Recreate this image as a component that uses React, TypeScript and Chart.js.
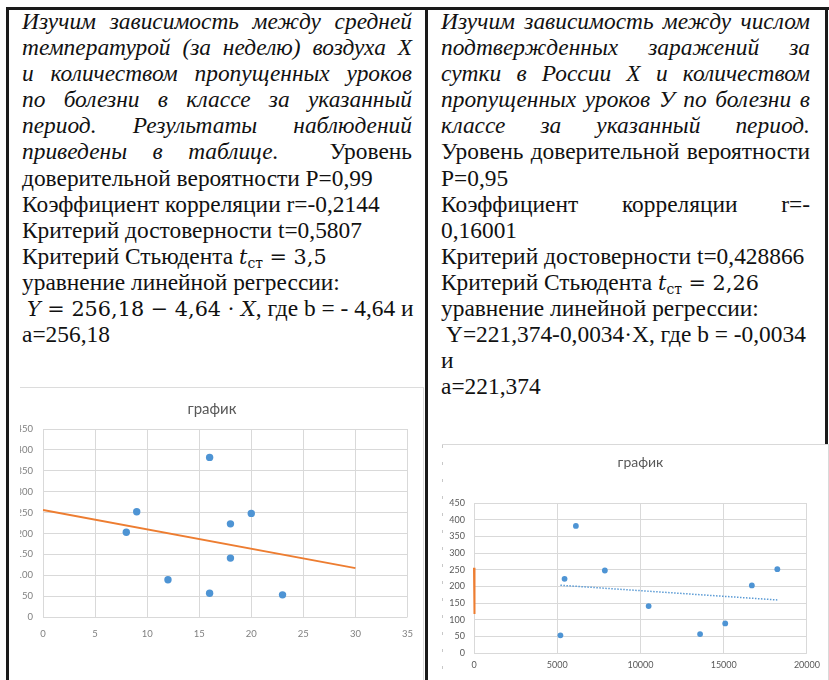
import React, { useEffect, useRef } from "react";
import { Chart, registerables } from "chart.js";

Chart.register(...registerables);

// Weekly mean air temperature (X) and lessons missed through illness (Y)
const avgTemperature = [16, 9, 8, 20, 18, 18, 12, 16, 23];
const lessonsMissed = [382, 252, 203, 248, 223, 141, 89, 57, 53];
// Confirmed infections per day in Russia (X) for the same weeks
const dailyCases = [6120, 18220, 16690, 7860, 5440, 10490, 15090, 13580, 5190];

// Linear regression coefficients, Y = a + b·X
const tempA = 256.18;
const tempB = -4.64;
const casesA = 221.374;
const casesB = -0.0034;

// X span of the temperature trend line (extended to 0 and 30)
const tempTrendX = [0, 30];

// Axis ticks
const tempXTicks = [0, 5, 10, 15, 20, 25, 30, 35];
const casesXTicks = [0, 5000, 10000, 15000, 20000];
const lessonsYTicks = [0, 50, 100, 150, 200, 250, 300, 350, 400, 450];

const serif = "'Liberation Serif', 'Times New Roman', serif";
const mathFont = "'DejaVu Serif', serif";
const sans = "Lato, 'Noto Sans', 'DejaVu Sans', sans-serif";

const BLUE = "#4e94d4";
const ORANGE = "#ed7d31";
const GRID = "#d9d9d9";
const INK = "#111";

const FS = 23.4;
const LH = 26.1;

const range = (ticks: number[]) => ({
  min: ticks[0],
  max: ticks[ticks.length - 1],
  stepSize: ticks[1] - ticks[0],
});

const line = (a: number, b: number, xs: number[]) => xs.map((x) => ({ x, y: a + b * x }));

function axis(ticks: number[], opts: any) {
  const r = range(ticks);
  return {
    type: "linear",
    min: r.min,
    max: r.max,
    ticks: {
      stepSize: r.stepSize,
      color: opts.color,
      font: { family: sans, size: opts.size },
      padding: opts.padding,
      callback: (v: any) => String(v),
    },
    grid: { color: GRID, lineWidth: 1, drawTicks: false },
    border: { display: false },
    afterFit: opts.fit,
  };
}

function tempConfig(): any {
  return {
    type: "scatter",
    data: {
      datasets: [
        {
          data: avgTemperature.map((x, i) => ({ x, y: lessonsMissed[i] })),
          backgroundColor: BLUE,
          borderColor: BLUE,
          pointRadius: 3.7,
          pointBorderWidth: 0,
          order: 0,
        },
        {
          data: line(tempA, tempB, tempTrendX),
          showLine: true,
          borderColor: ORANGE,
          borderWidth: 2,
          pointRadius: 0,
          order: 1,
        },
      ],
    },
    options: {
      animation: false,
      responsive: false,
      layout: { padding: { left: 0, right: 10, top: 0, bottom: 0 } },
      plugins: {
        legend: { display: false },
        tooltip: { enabled: false },
        title: {
          display: true,
          text: "график",
          color: "#595959",
          font: { family: sans, size: 15, weight: "normal" },
          padding: { top: 12, bottom: 11 },
        },
      },
      scales: {
        x: axis(tempXTicks, { color: "#7f7f7f", size: 9.5, padding: 11, fit: (s: any) => { s.height = 63; } }),
        y: axis(lessonsYTicks, { color: "#7f7f7f", size: 9.5, padding: 10, fit: (s: any) => { s.width = 33; } }),
      },
    },
  };
}

function casesConfig(): any {
  const span = [Math.min(...dailyCases), Math.max(...dailyCases)];
  return {
    type: "scatter",
    data: {
      datasets: [
        {
          data: dailyCases.map((x, i) => ({ x, y: lessonsMissed[i] })),
          backgroundColor: BLUE,
          borderColor: BLUE,
          pointRadius: 2.9,
          pointBorderWidth: 0,
          order: 0,
        },
        {
          data: line(casesA, casesB, span),
          showLine: true,
          borderColor: "#5b9bd5",
          borderWidth: 1.5,
          borderDash: [1.5, 1.5],
          pointRadius: 0,
          order: 1,
        },
        {
          data: line(tempA, tempB, tempTrendX),
          showLine: true,
          borderColor: ORANGE,
          borderWidth: 2,
          pointRadius: 0,
          clip: false,
          order: 2,
        },
      ],
    },
    options: {
      animation: false,
      responsive: false,
      layout: { padding: { left: 0, right: 10, top: 0, bottom: 0 } },
      plugins: {
        legend: { display: false },
        tooltip: { enabled: false },
        title: {
          display: true,
          fullSize: false,
          text: "график",
          color: "#595959",
          font: { family: sans, size: 14, weight: "normal" },
          padding: { top: 9.3, bottom: 32.2 },
        },
      },
      scales: {
        x: axis(casesXTicks, { color: "#595959", size: 9, padding: 7, fit: (s: any) => { s.height = 22; } }),
        y: axis(lessonsYTicks, { color: "#595959", size: 9, padding: 9, fit: (s: any) => { s.width = 31; } }),
      },
    },
  };
}

function ChartCanvas({ width, height, make, style }: any) {
  const ref = useRef<HTMLCanvasElement>(null);
  useEffect(() => {
    const chart = new Chart(ref.current as HTMLCanvasElement, make());
    return () => chart.destroy();
  }, []);
  return <canvas ref={ref} width={width} height={height} style={{ display: "block", width, height, ...style }} />;
}

// One line of text; justified lines spread their words edge to edge
function L({ children, j }: any) {
  return (
    <div
      style={{
        height: LH,
        lineHeight: LH + "px",
        whiteSpace: "nowrap",
        display: j ? "flex" : "block",
        justifyContent: "space-between",
        alignItems: "baseline",
      }}
    >
      {children}
    </div>
  );
}

function J({ text, i }: { text: string; i?: boolean }) {
  return (
    <L j>
      {text.split(" ").map((w, k) => (
        <span key={k} style={{ fontStyle: i ? "italic" : "normal" }}>
          {w}
        </span>
      ))}
    </L>
  );
}

const M = ({ children, i }: any) => (
  <span style={{ fontFamily: mathFont, fontSize: 20.8, fontStyle: i ? "italic" : "normal" }}>{children}</span>
);

const TSub = () => (
  <>
    <M i>t</M>
    <span style={{ fontFamily: mathFont, fontSize: 14, position: "relative", top: 4 }}>ст</span>
  </>
);

const rule = (style: any) => <div style={{ position: "absolute", background: "#1a1a1a", ...style }} />;

export default function App() {
  return (
    <div
      style={{
        position: "absolute",
        left: 0,
        top: 0,
        width: 829,
        height: 680,
        overflow: "hidden",
        background: "#fff",
        color: INK,
        fontFamily: serif,
        fontSize: FS,
      }}
    >
      {rule({ left: 6, top: 7, width: 823, height: 3 })}
      {rule({ left: 6, top: 7, width: 3, height: 673 })}
      {rule({ left: 425, top: 7, width: 3, height: 673 })}
      {rule({ left: 825, top: 7, width: 3, height: 437 })}

      <div style={{ position: "absolute", left: 22, top: 8, width: 390 }}>
        <J i text="Изучим зависимость между средней" />
        <J i text="температурой (за неделю) воздуха X" />
        <J i text="и количеством пропущенных уроков" />
        <J i text="по болезни в классе за указанный" />
        <J i text="период. Результаты наблюдений" />
        <L j>
          <span style={{ fontStyle: "italic" }}>приведены</span>
          <span style={{ fontStyle: "italic" }}>в</span>
          <span style={{ fontStyle: "italic" }}>таблице.</span>
          <span />
          <span>Уровень</span>
        </L>
        <L>доверительной вероятности P=0,99</L>
        <L>Коэффициент корреляции r=-0,2144</L>
        <L>Критерий достоверности t=0,5807</L>
        <L>
          Критерий Стьюдента <TSub />
          <M>{"\u00a0=\u00a03,5"}</M>
        </L>
        <L>уравнение линейной регрессии:</L>
        <L>
          <span style={{ marginLeft: 5 }} />
          <M i>Y</M>
          <M>{"\u00a0=\u00a0256,18\u00a0−\u00a04,64\u00a0·\u00a0"}</M>
          <M i>X</M>, где b = - 4,64 и
        </L>
        <L>a=256,18</L>
      </div>

      <div style={{ position: "absolute", left: 441, top: 8, width: 369 }}>
        <J i text="Изучим зависимость между числом" />
        <J i text="подтвержденных заражений за" />
        <J i text="сутки в России X и количеством" />
        <J i text="пропущенных уроков У по болезни в" />
        <J i text="классе за указанный период." />
        <J text="Уровень доверительной вероятности" />
        <L>P=0,95</L>
        <J text="Коэффициент корреляции r=-" />
        <L>0,16001</L>
        <L>Критерий достоверности t=0,428866</L>
        <L>
          Критерий Стьюдента <TSub />
          <M>{"\u00a0=\u00a02,26"}</M>
        </L>
        <L>уравнение линейной регрессии:</L>
        <L>
          <span style={{ marginLeft: 5 }} />
          Y=221,374-0,0034·X, где b = -0,0034
        </L>
        <L>и</L>
        <L>a=221,374</L>
      </div>

      {/* temperature chart */}
      <div
        style={{
          position: "absolute",
          left: 20,
          top: 387,
          width: 404,
          height: 293,
          boxSizing: "border-box",
          borderTop: "1px solid #dcdcdc",
          borderRight: "1px solid #dcdcdc",
          overflow: "hidden",
          background: "#fff",
        }}
      >
        <ChartCanvas width={414} height={292} make={tempConfig} style={{ marginLeft: -10 }} />
      </div>

      {/* infections chart */}
      <div
        style={{
          position: "absolute",
          left: 442,
          top: 444,
          width: 387,
          height: 236,
          boxSizing: "border-box",
          borderTop: "1px solid #d9d9d9",
          borderRight: "1px solid #d9d9d9",
          overflow: "hidden",
          background: "#fff",
        }}
      >
        <div
          style={{
            position: "absolute",
            left: 0,
            top: 0,
            width: 1,
            height: 228,
            background: "repeating-linear-gradient(to bottom, #c8c8c8 0 3px, transparent 3px 17px)",
          }}
        />
        <ChartCanvas width={384} height={230} make={casesConfig} style={{ marginLeft: 1 }} />
      </div>
    </div>
  );
}
